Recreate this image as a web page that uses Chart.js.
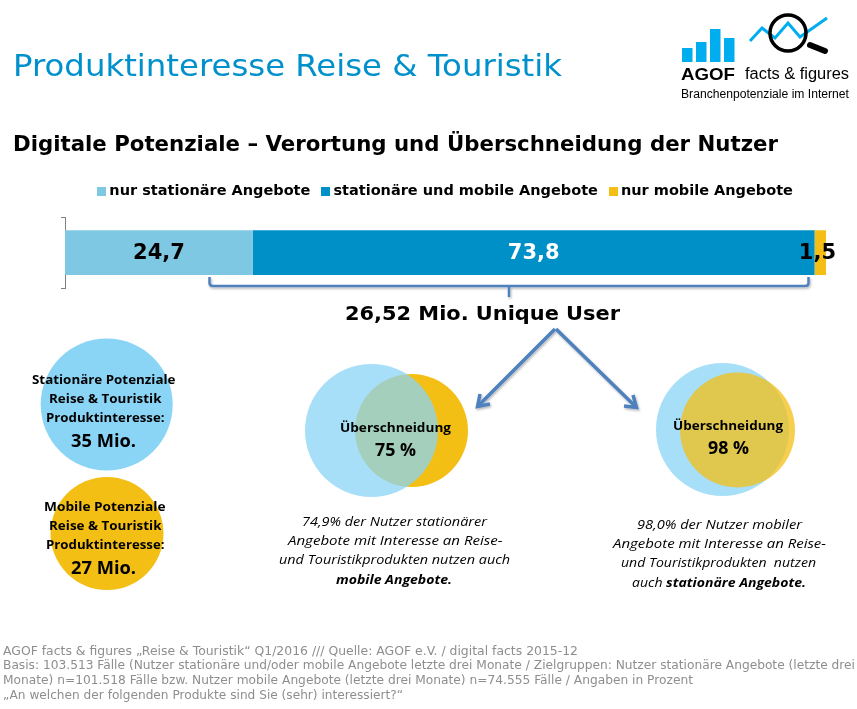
<!DOCTYPE html>
<html lang="de"><head><meta charset="utf-8">
<script src="https://cdn.jsdelivr.net/npm/chart.js@4"></script>
<style>
html,body{margin:0;padding:0;background:#fff;width:857px;height:709px;overflow:hidden}
#wrap{position:relative;width:857px;height:709px}
svg,canvas{position:absolute;left:0;top:0}
.t{position:absolute;white-space:pre;line-height:1;transform-origin:0 50%;color:#000;z-index:5}
</style></head><body>
<div id="wrap">
<svg width="857" height="709" viewBox="0 0 857 709">
<defs><filter id="sh" x="-20%" y="-20%" width="140%" height="140%"><feDropShadow dx="1" dy="1.5" stdDeviation="1.2" flood-color="#000" flood-opacity=".3"/></filter></defs>
<!-- logo -->
<g fill="#00AEEF"><rect x="682" y="48" width="10.5" height="14"/><rect x="696" y="42" width="10.5" height="20"/><rect x="710" y="29" width="10.5" height="33"/><rect x="724" y="38" width="10.5" height="24"/></g>
<polyline points="750,41 762,28 775,38 788,23 800,37 827,18" fill="none" stroke="#00AEEF" stroke-width="3"/>
<circle cx="788" cy="33" r="18" fill="none" stroke="#000" stroke-width="3.5"/>
<line x1="810" y1="45" x2="825" y2="51" stroke="#000" stroke-width="6" stroke-linecap="round"/>
<!-- potential circles -->
<circle cx="106.7" cy="404.5" r="66" fill="#8AD4F6"/>
<circle cx="107" cy="533.5" r="56.5" fill="#F3BF15"/>
<!-- venn 1 -->
<circle cx="411.5" cy="430.5" r="56.5" fill="#F3BF15"/>
<circle cx="371.5" cy="430.5" r="66.5" fill="#8AD4F6" fill-opacity=".75"/>
<!-- venn 2 -->
<circle cx="722.5" cy="429.5" r="66.5" fill="#8AD4F6" fill-opacity=".75"/>
<circle cx="737.5" cy="430" r="57.5" fill="#F3BF15" fill-opacity=".75"/>
<!-- bracket and arrows -->
<g fill="none" stroke="#4F81BD" stroke-width="2.5" filter="url(#sh)">
<path d="M209.5 277 V283 Q209.5 286 213 286 H805 Q808.5 286 808.5 283 V277"/>
<path d="M509 286 V297"/>
</g>
<g fill="none" stroke="#4F81BD" stroke-width="3.5" filter="url(#sh)">
<path d="M555 329 L478 406"/><path d="M480 394 L477.5 406.5 L490 404"/>
<path d="M556 329 L636 407"/><path d="M633 395 L636.5 407.5 L624 406"/>
</g>
</svg>
<canvas id="c" width="857" height="709" style="width:857px;height:709px"></canvas>
</div>
<script>
const categories = ['Nutzer'];
const seriesNames = ['nur stationäre Angebote','stationäre und mobile Angebote','nur mobile Angebote'];
const stationaer = [24.7];
const beide = [73.8];
const mobil = [1.5];
const seriesColors = ['#7FC8E3','#0090C8','#F4BE15'];
const labelColors = ['#000','#fff','#000'];
const seriesValues = [stationaer, beide, mobil];

const BLUE='#0091CC';
const V='"DejaVu Sans",Verdana,sans-serif', N='"Open Sans","Noto Sans",sans-serif', A='"Liberation Sans",Arial,sans-serif';
// html, left, right, vertical centre, font-size, font stack, weight, style, colour
const textLines = [
 ['Produktinteresse Reise &amp; Touristik',13,562,65,31,V,400,'normal',BLUE],
 ['Digitale Potenziale – Verortung und Überschneidung der Nutzer',13,778,144,21,V,700,'normal','#000'],
 ['26,52 Mio. Unique User',345,620,313,20,V,700,'normal','#000'],
 ['AGOF',681,735,74,17,A,700,'normal','#000'],
 ['facts &amp; figures',745,849,74,16,A,400,'normal','#000'],
 ['Branchenpotenziale im Internet',681,849,94,12,A,400,'normal','#000'],
 ['Stationäre Potenziale',32,175.5,379,13,N,700,'normal','#000'],
 ['Reise &amp; Touristik',48.5,161,398,13,N,700,'normal','#000'],
 ['Produktinteresse:',45.5,164,417,13,N,700,'normal','#000'],
 ['35 Mio.',71,136,440,18,N,700,'normal','#000'],
 ['Mobile Potenziale',43.5,165,506,13,N,700,'normal','#000'],
 ['Reise &amp; Touristik',48.5,161,525,13,N,700,'normal','#000'],
 ['Produktinteresse:',45.5,164,544,13,N,700,'normal','#000'],
 ['27 Mio.',71,136,567,18,N,700,'normal','#000'],
 ['Überschneidung',340,451,427,13,N,700,'normal','#000'],
 ['75 %',375,416,449,18,N,700,'normal','#000'],
 ['Überschneidung',673,783,425,13,N,700,'normal','#000'],
 ['98 %',708,749,447,18,N,700,'normal','#000'],
 ['74,9% der Nutzer stationärer',302,487,521,13,N,400,'italic','#000'],
 ['Angebote mit Interesse an Reise-',287.5,502,540,13,N,400,'italic','#000'],
 ['und Touristikprodukten nutzen auch',279,510,559,13,N,400,'italic','#000'],
 ['mobile Angebote.',336,452,579,13,N,700,'italic','#000'],
 ['98,0% der Nutzer mobiler',637,802,524,13,N,400,'italic','#000'],
 ['Angebote mit Interesse an Reise-',613,826,543,13,N,400,'italic','#000'],
 ['und Touristikprodukten  nutzen',621,816,562,13,N,400,'italic','#000'],
 ['auch <b>stationäre Angebote.</b>',632,806,582,13,N,400,'italic','#000'],
 ['AGOF facts &amp; figures „Reise &amp; Touristik“ Q1/2016 /// Quelle: AGOF e.V. / digital facts 2015-12',3,578,651,12,V,400,'normal','#8E8E8E'],
 ['Basis: 103.513 Fälle (Nutzer stationäre und/oder mobile Angebote letzte drei Monate / Zielgruppen: Nutzer stationäre Angebote (letzte drei',3,855,665,12,V,400,'normal','#8E8E8E'],
 ['Monate) n=101.518 Fälle bzw. Nutzer mobile Angebote (letzte drei Monate) n=74.555 Fälle / Angaben in Prozent',3,693,680,12,V,400,'normal','#8E8E8E'],
 ['„An welchen der folgenden Produkte sind Sie (sehr) interessiert?“',3,403,695,12,V,400,'normal','#8E8E8E']
];
const wrap=document.getElementById('wrap');
textLines.forEach(([h,l,r,cy,fs,ff,w,st,col])=>{
  const d=document.createElement('div');d.className='t';d.innerHTML=h;
  d.style.cssText=`left:${l}px;top:${cy-fs/2}px;font:${st} ${w} ${fs}px/1 ${ff};color:${col}`;
  wrap.appendChild(d);
  d.style.transform=`scaleX(${(r-l)/d.getBoundingClientRect().width})`;
});

const valueLabels={id:'valueLabels',afterDatasetsDraw(ch){
  const c=ch.ctx;c.save();c.textAlign='center';c.textBaseline='middle';c.font='700 21px "DejaVu Sans",Verdana,sans-serif';
  const edge=ch.chartArea.right+10;
  ch.data.datasets.forEach((ds,i)=>{
    ch.getDatasetMeta(i).data.forEach((el,j)=>{
      const s=String(ds.data[j]).replace('.',',');
      c.fillStyle=labelColors[i];
      c.fillText(s,Math.min((el.x+el.base)/2,edge-c.measureText(s).width/2),el.y+1);
    });
  });c.restore();
}};
// Reserve the gap between legend and bar, and centre the legend on the page rather than the plot.
const legendFit={id:'legendFit',beforeLayout(ch){
  const l=ch.legend; if(!l||l._wrapped) return; l._wrapped=true;
  const fit=l.fit, draw=l.draw;
  l.fit=function(){fit.call(this);this.height+=9;};
  l.draw=function(){const c=this.ctx;c.save();c.translate(3.5,0);draw.call(this);c.restore();};
}};
// Legend swatches: 9 px squares sitting close to their label text.
const swatches=seriesColors.map(col=>{
  const s=document.createElement('canvas');s.width=9;s.height=9;
  const g=s.getContext('2d');g.fillStyle=col;g.fillRect(0,0,9,9);return s;
});
new Chart(document.getElementById('c'),{
 type:'bar',
 data:{labels:categories,datasets:seriesNames.map((n,i)=>({label:n,data:seriesValues[i],backgroundColor:seriesColors[i],barPercentage:.634,categoryPercentage:1}))},
 options:{indexAxis:'y',responsive:false,animation:false,devicePixelRatio:1,
  layout:{padding:{left:61,right:31,top:169,bottom:421}},
  plugins:{tooltip:{enabled:false},
   legend:{display:true,position:'top',labels:{usePointStyle:true,pointStyleWidth:1,boxHeight:9,padding:14.75,color:'#000',
     font:{family:'"DejaVu Sans",Verdana,sans-serif',size:14.5,weight:'700'},
     generateLabels(ch){return Chart.defaults.plugins.legend.labels.generateLabels(ch).map((it,i)=>Object.assign(it,{pointStyle:swatches[i]}));}}}},
  scales:{
   x:{stacked:true,min:0,max:100,display:false},
   y:{stacked:true,afterFit(s){s.width=4},
      border:{color:'#808080',width:1},
      grid:{offset:true,drawOnChartArea:false,color:'#808080',tickLength:4},
      ticks:{callback:()=>'',padding:0}}
  }},
 plugins:[legendFit,valueLabels]
});
</script>
</body></html>
